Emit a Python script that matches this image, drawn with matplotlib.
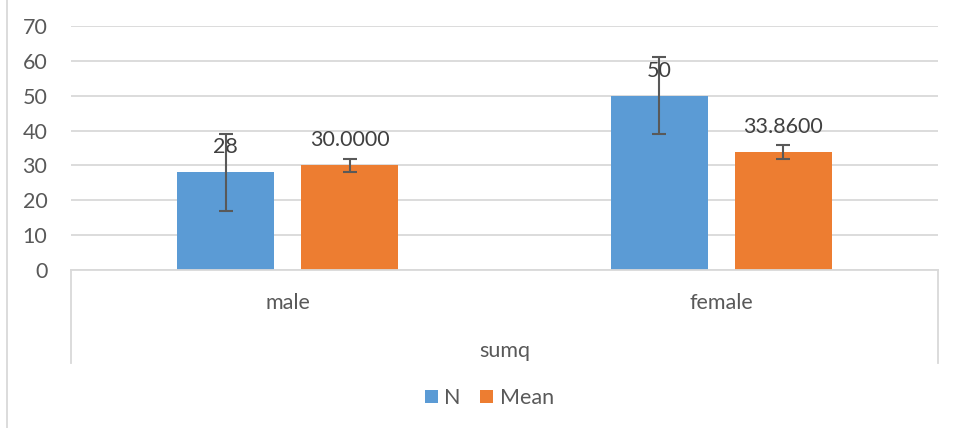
import matplotlib
matplotlib.use("Agg")
import matplotlib.pyplot as plt
import numpy as np

categories = ["male", "female"]
outer_label = "sumq"
n_values = [28, 50]
n_errors = [11, 11]
mean_values = [30.0, 33.86]
mean_errors = [1.85, 1.9]
n_labels = ["28", "50"]
mean_labels = ["30.0000", "33.8600"]
yticks = [0, 10, 20, 30, 40, 50, 60, 70]

blue = "#5B9BD5"
orange = "#ED7D31"
text_col = "#595959"
grid_col = "#D9D9D9"

plt.rcParams['font.family'] = ['Lato', 'DejaVu Sans']

fig = plt.figure(figsize=(9.54, 4.28), dpi=100)
ax = fig.add_axes([71 / 954, 1 - 270 / 428, 867 / 954, 244 / 428])

x = np.arange(len(categories))
width = 0.224
off = 0.143

ax.bar(x - off, n_values, width, color=blue, label="N", zorder=2)
ax.bar(x + off, mean_values, width, color=orange, label="Mean", zorder=2)
ax.errorbar(x - off, n_values, yerr=n_errors, fmt="none", ecolor="#595959",
            elinewidth=1.5, capsize=5, capthick=1.5, zorder=3)
ax.errorbar(x + off, mean_values, yerr=mean_errors, fmt="none", ecolor="#595959",
            elinewidth=1.5, capsize=5, capthick=1.5, zorder=3)

for xi, v, lab in zip(x - off, n_values, n_labels):
    ax.annotate(lab, (xi, v), xytext=(0, 18), textcoords="offset points",
                ha="center", va="center", fontsize=15.5, color="#404040", zorder=4)
for xi, v, lab in zip(x + off, mean_values, mean_labels):
    ax.annotate(lab, (xi, v), xytext=(0, 18), textcoords="offset points",
                ha="center", va="center", fontsize=15.5, color="#404040", zorder=4)

ax.set_xlim(-0.5, 1.5)
ax.set_ylim(0, 70)
ax.set_yticks(yticks)
ax.set_yticklabels([str(t) for t in yticks], fontsize=15.5, color=text_col)
ax.tick_params(axis="y", length=0, pad=17)
ax.set_xticks([])
ax.grid(axis="y", color=grid_col, linewidth=1.3, zorder=0)
for s in ["top", "right", "left"]:
    ax.spines[s].set_visible(False)
ax.spines["bottom"].set_color(grid_col)
ax.spines["bottom"].set_linewidth(1.3)

# multi-level category axis
tr = ax.get_xaxis_transform()
for xb in [-0.5, 1.5]:
    ax.plot([xb, xb], [0, -93 / 244], transform=tr, color=grid_col,
            linewidth=1.3, clip_on=False)
for xi, c in zip(x, categories):
    ax.text(xi, -33 / 244, c, transform=tr, ha="center", va="center",
            fontsize=15.5, color=text_col)
ax.text(0.5, -81 / 244, outer_label, transform=tr, ha="center", va="center",
        fontsize=15.5, color=text_col)

# chart border on the left
fig.add_artist(plt.Line2D([7 / 954, 7 / 954], [0, 1], color=grid_col, linewidth=1.3))

fig.legend(loc="center", bbox_to_anchor=(0.513, 0.07), ncol=2, frameon=False,
           fontsize=15.5, labelcolor=text_col, handlelength=0.6, handleheight=0.6,
           handletextpad=0.3, columnspacing=0.9)

fig.savefig("out.png", dpi=100)
